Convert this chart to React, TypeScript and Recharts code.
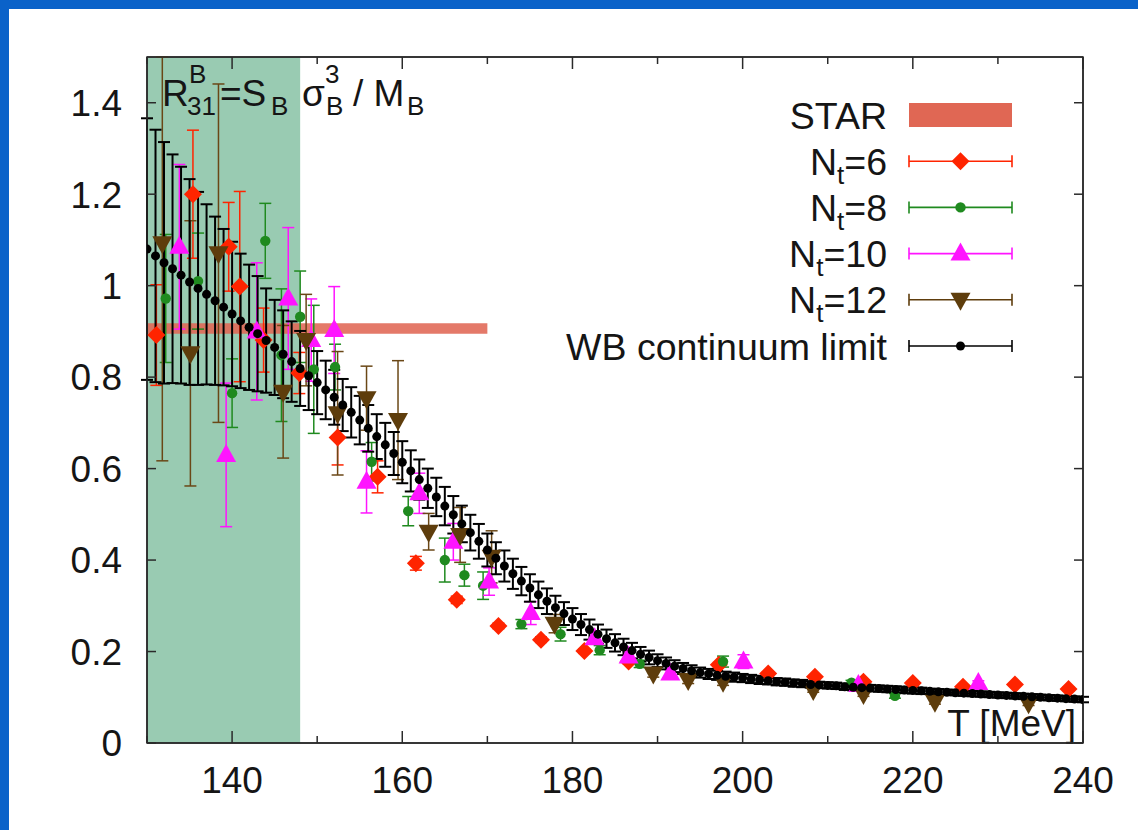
import {
  ComposedChart,
  Scatter,
  ErrorBar,
  XAxis,
  YAxis,
  ReferenceArea,
  Legend,
  Customized,
} from 'recharts';

const FONT = '"Liberation Sans", Arial, Helvetica, sans-serif';
const INK = '#151515';
const FRAME = '#2a2a2a';
const BLUE = '#0a62c9';
const RED = '#ff2400';
const GREEN = '#1f8a1f';
const MAGENTA = '#ff14ff';
const BROWN = '#5e3d0c';
const STAR_COLOR = '#e06754';
const BAND_COLOR = '#99cbb2';

// N_t = 6
const nt6T = [131.1, 135.4, 139.6, 140.9, 143.7, 147.9, 152.4, 157.1, 161.6, 166.4, 171.3, 176.3, 181.4, 186.6, 197.2, 203.0, 208.5, 214.2, 220.0, 225.9, 232.0, 238.3];
const nt6R = [0.892, 1.2, 1.085, 0.998, 0.881, 0.809, 0.668, 0.582, 0.393, 0.313, 0.256, 0.226, 0.201, 0.178, 0.171, 0.152, 0.145, 0.134, 0.131, 0.123, 0.128, 0.118];
const nt6Err = [0.11, 0.14, 0.097, 0.208, 0.07, 0.045, 0.06, 0.035, 0.015, 0.008, 0.006, 0.006, 0.005, 0.005, 0.005, 0.004, 0.004, 0.004, 0.004, 0.004, 0.004, 0.004];

// N_t = 8
const nt8T = [132.2, 136.0, 140.0, 143.9, 145.8, 148.0, 149.6, 152.1, 156.4, 160.7, 165.0, 167.3, 169.5, 174.0, 178.6, 183.2, 187.9, 197.7, 212.8, 217.9];
const nt8R = [0.972, 1.01, 0.765, 1.098, 0.848, 0.932, 0.817, 0.822, 0.615, 0.507, 0.4, 0.367, 0.344, 0.26, 0.238, 0.203, 0.173, 0.178, 0.132, 0.103];
const nt8Err = [0.14, 0.105, 0.075, 0.082, 0.145, 0.1, 0.14, 0.05, 0.042, 0.032, 0.048, 0.024, 0.03, 0.01, 0.015, 0.01, 0.008, 0.012, 0.005, 0.005];

// N_t = 10
const nt10T = [133.8, 139.3, 142.9, 146.6, 149.3, 152.0, 155.8, 162.0, 166.0, 170.2, 175.1, 182.6, 186.6, 191.5, 200.1, 213.6, 227.7];
const nt10R = [1.085, 0.63, 0.9, 0.972, 0.881, 0.903, 0.571, 0.546, 0.44, 0.353, 0.284, 0.229, 0.189, 0.152, 0.178, 0.127, 0.131];
const nt10Err = [0.18, 0.157, 0.15, 0.155, 0.09, 0.095, 0.068, 0.044, 0.04, 0.03, 0.025, 0.012, 0.01, 0.008, 0.015, 0.005, 0.005];

// N_t = 12 (first point: upper end runs off the top of the frame)
const nt12T = [131.8, 135.1, 138.4, 146.0, 148.7, 152.4, 155.8, 159.5, 163.1, 166.8, 170.5, 177.9, 189.5, 193.6, 197.7, 208.3, 214.2, 222.6, 233.6];
const nt12R = [1.093, 0.852, 1.071, 0.768, 0.881, 0.721, 0.754, 0.706, 0.462, 0.455, 0.407, 0.261, 0.152, 0.138, 0.134, 0.116, 0.107, 0.09, 0.087];
const nt12Err: (number | number[])[] = [[0.476, 0.407], 0.29, 0.37, 0.145, 0.1, 0.135, 0.07, 0.13, 0.04, 0.06, 0.057, 0.02, 0.008, 0.008, 0.008, 0.005, 0.005, 0.005, 0.005];

// WB continuum limit
const wbT = [
  130, 131, 132, 133, 134, 135, 136, 137, 138, 139,
  140, 141, 142, 143, 144, 145, 146, 147, 148, 149,
  150, 151, 152, 153, 154, 155, 156, 157, 158, 159,
  160, 161, 162, 163, 164, 165, 166, 167, 168, 169,
  170, 171, 172, 173, 174, 175, 176, 177, 178, 179,
  180, 181, 182, 183, 184, 185, 186, 187, 188, 189,
  190, 191, 192, 193, 194, 195, 196, 197, 198, 199,
  200, 201, 202, 203, 204, 205, 206, 207, 208, 209,
  210, 211, 212, 213, 214, 215, 216, 217, 218, 219,
  220, 221, 222, 223, 224, 225, 226, 227, 228, 229,
  230, 231, 232, 233, 234, 235, 236, 237, 238, 239,
  240,
];
const wbR = [
  1.08, 1.065, 1.05, 1.037, 1.023, 1.008, 0.994, 0.981, 0.967, 0.953,
  0.938, 0.923, 0.909, 0.895, 0.88, 0.865, 0.85, 0.834, 0.819, 0.803,
  0.788, 0.772, 0.756, 0.739, 0.723, 0.706, 0.688, 0.67, 0.652, 0.633,
  0.614, 0.595, 0.576, 0.557, 0.538, 0.518, 0.499, 0.479, 0.46, 0.441,
  0.422, 0.404, 0.387, 0.37, 0.354, 0.339, 0.324, 0.31, 0.296, 0.283,
  0.271, 0.259, 0.248, 0.238, 0.228, 0.219, 0.21, 0.202, 0.194, 0.187,
  0.18, 0.174, 0.168, 0.163, 0.158, 0.154, 0.151, 0.148, 0.146, 0.144,
  0.142, 0.14, 0.138, 0.136, 0.134, 0.133, 0.131, 0.13, 0.128, 0.127,
  0.126, 0.125, 0.123, 0.122, 0.121, 0.12, 0.119, 0.118, 0.117, 0.116,
  0.115, 0.114, 0.113, 0.112, 0.111, 0.11, 0.109, 0.108, 0.107, 0.106,
  0.105, 0.104, 0.103, 0.102, 0.101, 0.1, 0.099, 0.098, 0.097, 0.096,
  0.095,
];
const wbErr = [
  0.286, 0.276, 0.264, 0.25, 0.237, 0.225, 0.211, 0.197, 0.184, 0.171,
  0.158, 0.147, 0.137, 0.126, 0.114, 0.104, 0.096, 0.088, 0.082, 0.075,
  0.069, 0.064, 0.06, 0.057, 0.055, 0.053, 0.051, 0.049, 0.048, 0.047,
  0.046, 0.045, 0.044, 0.043, 0.042, 0.042, 0.041, 0.04, 0.039, 0.038,
  0.036, 0.035, 0.034, 0.033, 0.031, 0.03, 0.029, 0.028, 0.026, 0.025,
  0.024, 0.023, 0.022, 0.021, 0.02, 0.019, 0.018, 0.017, 0.016, 0.015,
  0.014, 0.013, 0.013, 0.012, 0.012, 0.011, 0.011, 0.01, 0.01, 0.01,
  0.009, 0.009, 0.009, 0.008, 0.008, 0.008, 0.008, 0.008, 0.007, 0.007,
  0.007, 0.007, 0.007, 0.007, 0.007, 0.007, 0.007, 0.007, 0.007, 0.007,
  0.007, 0.007, 0.006, 0.006, 0.006, 0.006, 0.006, 0.006, 0.006, 0.006,
  0.006, 0.006, 0.006, 0.006, 0.006, 0.006, 0.006, 0.006, 0.006, 0.006,
  0.006,
];

// STAR band and pseudo-critical region
const starT = [130, 170];
const starR = [0.895, 0.918];
const bandT = [130, 148];
const xDomain = [130, 240];
const yDomain = [0, 1.5];

const xTicks = [130, 140, 150, 160, 170, 180, 190, 200, 210, 220, 230, 240];
const yTicks = [0, 0.2, 0.4, 0.6, 0.8, 1, 1.2, 1.4];

const toPoints = (t: number[], r: number[], e: (number | number[])[]) =>
  t.map((T, i) => ({ T, R: r[i], err: e[i] }));

const nt6 = toPoints(nt6T, nt6R, nt6Err);
const nt8 = toPoints(nt8T, nt8R, nt8Err);
const nt10 = toPoints(nt10T, nt10R, nt10Err);
const nt12 = toPoints(nt12T, nt12R, nt12Err);
const wb = toPoints(wbT, wbR, wbErr);

type Kind = 'diamond' | 'circle' | 'up' | 'down' | 'dot';

function Marker({ cx, cy, kind, color }: { cx: number; cy: number; kind: Kind; color: string }) {
  if (cx == null || cy == null) return null;
  switch (kind) {
    case 'diamond':
      return <polygon points={`${cx},${cy - 9} ${cx + 9},${cy} ${cx},${cy + 9} ${cx - 9},${cy}`} fill={color} stroke="none" />;
    case 'circle':
      return <circle cx={cx} cy={cy} r={5.2} fill={color} stroke="none" />;
    case 'up':
      return <polygon points={`${cx},${cy - 11} ${cx + 10},${cy + 7} ${cx - 10},${cy + 7}`} fill={color} stroke="none" />;
    case 'down':
      return <polygon points={`${cx - 10},${cy - 7} ${cx + 10},${cy - 7} ${cx},${cy + 11}`} fill={color} stroke="none" />;
    default:
      return <circle cx={cx} cy={cy} r={4.5} fill={color} stroke="none" />;
  }
}

const BottomTick = (props: any) => {
  const { x, y, payload } = props;
  const major = payload.value % 20 === 0;
  return (
    <g>
      <line x1={x} x2={x} y1={y} y2={y - (major ? 12 : 7)} stroke={FRAME} strokeWidth={1.5} />
      {major && (
        <text x={x} y={y + 24} dy="0.71em" textAnchor="middle" fontSize={37} fontFamily={FONT} fill={INK}>
          {payload.value}
        </text>
      )}
    </g>
  );
};

const TopTick = (props: any) => {
  const { x, y, payload } = props;
  const major = payload.value % 20 === 0;
  return <line x1={x} x2={x} y1={y} y2={y + (major ? 12 : 7)} stroke={FRAME} strokeWidth={1.5} />;
};

const LeftTick = (props: any) => {
  const { x, y, payload } = props;
  return (
    <g>
      <line x1={x + 25} x2={x + 34} y1={y} y2={y} stroke={FRAME} strokeWidth={1.5} />
      <text x={x} y={y} dy="0.36em" textAnchor="end" fontSize={37} fontFamily={FONT} fill={INK}>
        {String(payload.value)}
      </text>
    </g>
  );
};

const RightTick = (props: any) => {
  const { x, y } = props;
  return <line x1={x} x2={x - 9} y1={y} y2={y} stroke={FRAME} strokeWidth={1.5} />;
};

const legendRows = [
  { label: 'STAR', kind: 'band', color: STAR_COLOR },
  { label: '6', kind: 'diamond', color: RED },
  { label: '8', kind: 'circle', color: GREEN },
  { label: '10', kind: 'up', color: MAGENTA },
  { label: '12', kind: 'down', color: BROWN },
  { label: 'WB continuum limit', kind: 'dot', color: '#000' },
];

const LegendBox = () => (
  <svg width={520} height={285} style={{ display: 'block', overflow: 'visible' }}>
    {legendRows.map((row, i) => {
      const cy = 27 + i * 46.2;
      const textX = 367;
      const x1 = 389;
      const x2 = 492;
      const mid = (x1 + x2) / 2;
      const isNt = row.kind !== 'band' && row.kind !== 'dot';
      return (
        <g key={row.label}>
          <text x={textX} y={cy} dy="0.36em" textAnchor="end" fontSize={37.5} fontFamily={FONT} fill={INK}>
            {isNt ? (
              <>
                <tspan>N</tspan>
                <tspan dy={9} fontSize={26}>t</tspan>
                <tspan dy={-9}>={row.label}</tspan>
              </>
            ) : (
              row.label
            )}
          </text>
          {row.kind === 'band' ? (
            <rect x={x1} y={cy - 12} width={x2 - x1} height={24} fill={row.color} />
          ) : (
            <g stroke={row.color} strokeWidth={1.6}>
              <line x1={x1} x2={x2} y1={cy} y2={cy} />
              <line x1={x1} x2={x1} y1={cy - 6} y2={cy + 6} />
              <line x1={x2} x2={x2} y1={cy - 6} y2={cy + 6} />
              <Marker cx={mid} cy={cy} kind={row.kind as Kind} color={row.color} />
            </g>
          )}
        </g>
      );
    })}
  </svg>
);

// title drawn as the label of the shaded band, so it sits above the fill
const TitleLabel = (props: any) => {
  const vb = props.viewBox || { x: 147, y: 57 };
  const x0 = vb.x;
  const y0 = vb.y;
  return (
    <g fontFamily={FONT} fill={INK}>
      <text x={x0 + 15} y={y0 + 49} fontSize={37}>R</text>
      <text x={x0 + 42} y={y0 + 26} fontSize={26}>B</text>
      <text x={x0 + 40} y={y0 + 58} fontSize={26}>31</text>
      <text x={x0 + 73} y={y0 + 49} fontSize={37}>=S</text>
      <text x={x0 + 124} y={y0 + 58} fontSize={26}>B</text>
      <text x={x0 + 155} y={y0 + 49} fontSize={37}>σ</text>
      <text x={x0 + 178} y={y0 + 26} fontSize={26}>3</text>
      <text x={x0 + 179} y={y0 + 58} fontSize={26}>B</text>
      <text x={x0 + 206} y={y0 + 49} fontSize={37}>/ M</text>
      <text x={x0 + 260} y={y0 + 58} fontSize={26}>B</text>
    </g>
  );
};

const AxisTitle = () => (
  <text x={1076} y={736} fontSize={37} textAnchor="end" fontFamily={FONT} fill={INK}>
    T [MeV]
  </text>
);

const seriesList = [
  { name: 'Nt=6', data: nt6, kind: 'diamond' as Kind, color: RED, bar: RED, xId: 'b', yId: 'l' },
  { name: 'Nt=8', data: nt8, kind: 'circle' as Kind, color: GREEN, bar: GREEN, xId: 'b', yId: 'l' },
  { name: 'Nt=10', data: nt10, kind: 'up' as Kind, color: MAGENTA, bar: MAGENTA, xId: 'b', yId: 'r' },
  { name: 'Nt=12', data: nt12, kind: 'down' as Kind, color: BROWN, bar: '#6a4716', xId: 't', yId: 'l' },
  { name: 'WB continuum limit', data: wb, kind: 'dot' as Kind, color: '#000', bar: '#000', xId: 'b', yId: 'l' },
];

export default function App() {
  return (
    <div style={{ position: 'absolute', left: 0, top: 0, width: 1138, height: 830, background: '#fff', overflow: 'hidden' }}>
      <div style={{ position: 'absolute', left: 0, top: 0 }}>
        <ComposedChart width={1138} height={830} margin={{ top: 56, right: 54, bottom: 27, left: 0 }}>
          <XAxis
            xAxisId="b"
            dataKey="T"
            type="number"
            domain={xDomain}
            ticks={xTicks}
            allowDataOverflow
            height={60}
            tickSize={0}
            tickMargin={0}
            tickLine={false}
            axisLine={{ stroke: FRAME, strokeWidth: 1.5 }}
            tick={BottomTick}
            interval={0}
          />
          <XAxis
            xAxisId="t"
            dataKey="T"
            orientation="top"
            type="number"
            domain={xDomain}
            ticks={xTicks}
            allowDataOverflow
            height={1}
            tickSize={0}
            tickMargin={0}
            tickLine={false}
            axisLine={{ stroke: FRAME, strokeWidth: 1.5 }}
            tick={TopTick}
            interval={0}
          />
          <YAxis
            yAxisId="l"
            dataKey="R"
            type="number"
            domain={yDomain}
            ticks={yTicks}
            allowDataOverflow
            width={147}
            tickSize={0}
            tickMargin={25}
            tickLine={false}
            axisLine={{ stroke: FRAME, strokeWidth: 1.5 }}
            tick={LeftTick}
            interval={0}
          />
          <YAxis
            yAxisId="r"
            dataKey="R"
            orientation="right"
            type="number"
            domain={yDomain}
            ticks={yTicks}
            allowDataOverflow
            width={1}
            tickSize={0}
            tickMargin={0}
            tickLine={false}
            axisLine={{ stroke: FRAME, strokeWidth: 1.5 }}
            tick={RightTick}
            interval={0}
          />
          <ReferenceArea
            xAxisId="b"
            yAxisId="l"
            x1={bandT[0]}
            x2={bandT[1]}
            y1={yDomain[0]}
            y2={yDomain[1]}
            fill={BAND_COLOR}
            fillOpacity={1}
            stroke="none"
            label={TitleLabel}
          />
          <ReferenceArea
            xAxisId="b"
            yAxisId="l"
            x1={starT[0]}
            x2={starT[1]}
            y1={starR[0]}
            y2={starR[1]}
            fill={STAR_COLOR}
            fillOpacity={0.88}
            stroke="none"
          />
          <ReferenceArea
            xAxisId="b"
            yAxisId="l"
            x1={xDomain[0]}
            x2={xDomain[1]}
            y1={yDomain[0]}
            y2={yDomain[1]}
            fill="none"
            stroke={FRAME}
            strokeWidth={1.5}
          />
          {seriesList.map((s) => (
            <Scatter
              key={s.name}
              name={s.name}
              xAxisId={s.xId}
              yAxisId={s.yId}
              data={s.data}
              dataKey="R"
              fill={s.color}
              isAnimationActive={false}
              shape={(p: any) => <Marker cx={p.cx} cy={p.cy} kind={s.kind} color={s.color} />}
            >
              <ErrorBar dataKey="err" direction="y" width={6} stroke={s.bar} strokeWidth={s.kind === 'dot' ? 2 : 1.5} />
            </Scatter>
          ))}
          <Customized component={AxisTitle} />
          <Legend
            content={LegendBox}
            layout="vertical"
            align="center"
            verticalAlign="middle"
            wrapperStyle={{ left: 520, top: 88, width: 520, height: 285 }}
          />
        </ComposedChart>
      </div>
      <div style={{ position: 'absolute', left: 0, top: 0, width: 1138, height: 9, background: BLUE }} />
      <div style={{ position: 'absolute', left: 0, top: 0, width: 9, height: 830, background: BLUE }} />
    </div>
  );
}
